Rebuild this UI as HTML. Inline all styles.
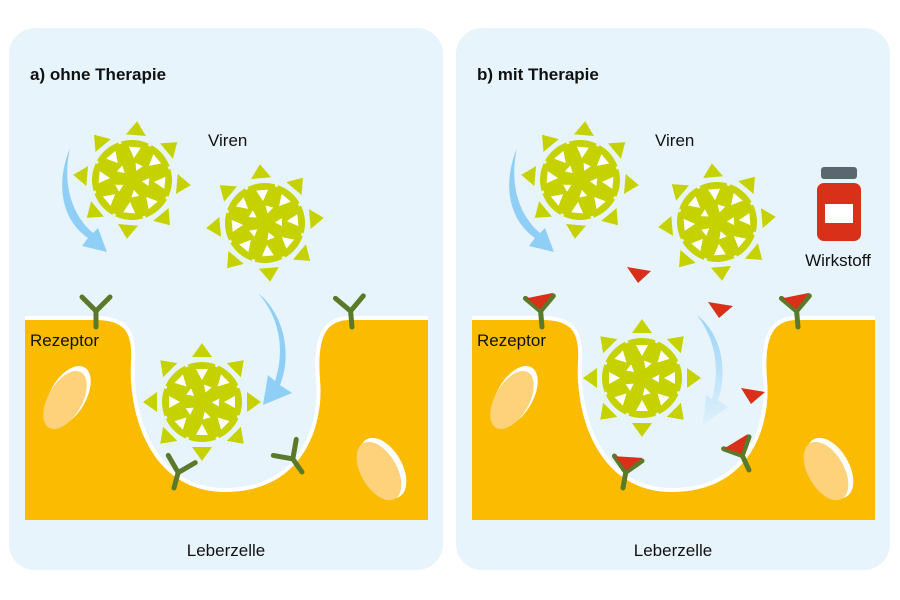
<!DOCTYPE html>
<html><head><meta charset="utf-8"><style>
html,body{margin:0;padding:0;background:#fff;}
svg{display:block;}
text{font-family:"Liberation Sans",sans-serif;fill:#111;}
</style></head><body>
<svg width="900" height="600" viewBox="0 0 900 600" xmlns="http://www.w3.org/2000/svg">
<defs>
<g id="virus">
  <g fill="#c5d200">
    <polygon points="-10,-45 10,-45 0,-59"/>
    <polygon points="-10,-45 10,-45 0,-59" transform="rotate(45)"/>
    <polygon points="-10,-45 10,-45 0,-59" transform="rotate(90)"/>
    <polygon points="-10,-45 10,-45 0,-59" transform="rotate(135)"/>
    <polygon points="-10,-45 10,-45 0,-59" transform="rotate(180)"/>
    <polygon points="-10,-45 10,-45 0,-59" transform="rotate(225)"/>
    <polygon points="-10,-45 10,-45 0,-59" transform="rotate(270)"/>
    <polygon points="-10,-45 10,-45 0,-59" transform="rotate(315)"/>
    <circle r="40"/>
  </g>
  <g stroke="#e8f4fc" stroke-width="3">
    <line x1="0" y1="-38" x2="0" y2="-45" transform="rotate(22)"/>
    <line x1="0" y1="-38" x2="0" y2="-45" transform="rotate(67)"/>
    <line x1="0" y1="-38" x2="0" y2="-45" transform="rotate(112)"/>
    <line x1="0" y1="-38" x2="0" y2="-45" transform="rotate(157)"/>
    <line x1="0" y1="-38" x2="0" y2="-45" transform="rotate(202)"/>
    <line x1="0" y1="-38" x2="0" y2="-45" transform="rotate(247)"/>
    <line x1="0" y1="-38" x2="0" y2="-45" transform="rotate(292)"/>
    <line x1="0" y1="-38" x2="0" y2="-45" transform="rotate(337)"/>
  </g>
  <g fill="#fff">
    <polygon points="-6,-33 6,-33 0,-22" transform="rotate(0)"/>
    <polygon points="-6,-33 6,-33 0,-22" transform="rotate(45)"/>
    <polygon points="-6,-33 6,-33 0,-22" transform="rotate(90)"/>
    <polygon points="-6,-33 6,-33 0,-22" transform="rotate(135)"/>
    <polygon points="-6,-33 6,-33 0,-22" transform="rotate(180)"/>
    <polygon points="-6,-33 6,-33 0,-22" transform="rotate(225)"/>
    <polygon points="-6,-33 6,-33 0,-22" transform="rotate(270)"/>
    <polygon points="-6,-33 6,-33 0,-22" transform="rotate(315)"/>
    <polygon points="-4,-17 4,-17 0,-10" transform="rotate(20)"/>
    <polygon points="-4,-17 4,-17 0,-10" transform="rotate(92)"/>
    <polygon points="-4,-17 4,-17 0,-10" transform="rotate(164)"/>
    <polygon points="-4,-17 4,-17 0,-10" transform="rotate(236)"/>
    <polygon points="-4,-17 4,-17 0,-10" transform="rotate(308)"/>
  </g>
</g>
<g id="rec" fill="none" stroke="#5a7a2a" stroke-width="5" stroke-linecap="round">
  <path d="M0,0 L0,-16 L-14,-30 M0,-16 L14,-30"/>
</g>
<g id="recd">
  <use href="#rec"/>
  <polygon points="-13,-30 14,-33 0,-18" fill="#d9301a"/>
</g>
<linearGradient id="fade" x1="0" y1="0" x2="0" y2="1">
  <stop offset="0" stop-color="#8fcff5" stop-opacity="0.9"/>
  <stop offset="1" stop-color="#8fcff5" stop-opacity="0.1"/>
</linearGradient>
</defs>

<rect x="9" y="28" width="434" height="542" rx="26" fill="#e8f4fc"/>
<rect x="456" y="28" width="434" height="542" rx="26" fill="#e8f4fc"/>

<text x="30" y="80" font-size="17" font-weight="bold">a)  ohne Therapie</text>
<text x="477" y="80" font-size="17" font-weight="bold">b)  mit Therapie</text>

<path d="M25,318 L95,318 C125,318 135,330 133,362 C130,410 150,490 225,490 C305,490 322,420 318,380 C315,340 322,318 350,318 L428,318 L428,520 L25,520 Z" fill="#fbbb00"/>
<path d="M25,318 L95,318 C125,318 135,330 133,362 C130,410 150,490 225,490 C305,490 322,420 318,380 C315,340 322,318 350,318 L428,318" fill="none" stroke="#fff" stroke-width="4"/>
<ellipse cx="68" cy="396" rx="18" ry="33" transform="rotate(30 68 396)" fill="#fff"/>
<ellipse cx="65" cy="400" rx="17" ry="32" transform="rotate(30 65 400)" fill="#fdd27a"/>
<ellipse cx="383" cy="468" rx="19" ry="33" transform="rotate(-30 383 468)" fill="#fff"/>
<ellipse cx="379" cy="471" rx="18" ry="32" transform="rotate(-30 379 471)" fill="#fdd27a"/>

<path d="M472,318 L542,318 C572,318 582,330 580,362 C577,410 597,490 672,490 C752,490 769,420 765,380 C762,340 769,318 797,318 L875,318 L875,520 L472,520 Z" fill="#fbbb00"/>
<path d="M472,318 L542,318 C572,318 582,330 580,362 C577,410 597,490 672,490 C752,490 769,420 765,380 C762,340 769,318 797,318 L875,318" fill="none" stroke="#fff" stroke-width="4"/>
<ellipse cx="515" cy="396" rx="18" ry="33" transform="rotate(30 515 396)" fill="#fff"/>
<ellipse cx="512" cy="400" rx="17" ry="32" transform="rotate(30 512 400)" fill="#fdd27a"/>
<ellipse cx="830" cy="468" rx="19" ry="33" transform="rotate(-30 830 468)" fill="#fff"/>
<ellipse cx="826" cy="471" rx="18" ry="32" transform="rotate(-30 826 471)" fill="#fdd27a"/>

<path d="M70,148 C55,185 62,220 88,238 L82,246 L107,252 L98,228 L93,233 C72,215 62,185 70,148 Z" fill="#8fcff5"/>
<path d="M258,293 C285,315 292,355 280,385 L292,393 L263,405 L268,375 L275,381 C285,350 280,318 258,293 Z" fill="#8fcff5"/>
<path d="M517,148 C502,185 509,220 535,238 L529,246 L554,252 L545,228 L540,233 C519,215 509,185 517,148 Z" fill="#8fcff5"/>
<path d="M697,315 C722,335 728,370 718,400 L728,407 L703,425 L706,395 L712,399 C720,370 716,340 697,315 Z" fill="url(#fade)"/>

<use href="#virus" transform="translate(132,180) rotate(5)"/>
<use href="#virus" transform="translate(265,223) rotate(-5)"/>
<use href="#virus" transform="translate(202,402)"/>
<use href="#virus" transform="translate(580,180) rotate(5)"/>
<use href="#virus" transform="translate(717,222) rotate(-5)"/>
<use href="#virus" transform="translate(642,378)"/>

<use href="#rec" transform="translate(96,327)"/>
<use href="#rec" transform="translate(352,327) rotate(-5)"/>
<use href="#rec" transform="translate(174,488) rotate(15)"/>
<use href="#rec" transform="translate(302,472) rotate(-35)"/>
<use href="#recd" transform="translate(542,327) rotate(-5)"/>
<use href="#recd" transform="translate(798,327) rotate(-5)"/>
<use href="#recd" transform="translate(623,488) rotate(10)"/>
<use href="#recd" transform="translate(749,470) rotate(-25)"/>

<g fill="#d9301a">
  <polygon points="627,267 651,271 638,283"/>
  <polygon points="708,302 733,306 719,318"/>
  <polygon points="741,388 765,392 751,404"/>
</g>

<rect x="821" y="167" width="36" height="12" rx="3" fill="#5a6670"/>
<rect x="817" y="183" width="44" height="58" rx="7" fill="#d9301a"/>
<rect x="825" y="204" width="28" height="19" fill="#fff"/>
<text x="838" y="266" font-size="17" text-anchor="middle">Wirkstoff</text>

<text x="208" y="146" font-size="17">Viren</text>
<text x="655" y="146" font-size="17">Viren</text>
<text x="30" y="346" font-size="17">Rezeptor</text>
<text x="477" y="346" font-size="17">Rezeptor</text>
<text x="226" y="556" font-size="17" text-anchor="middle">Leberzelle</text>
<text x="673" y="556" font-size="17" text-anchor="middle">Leberzelle</text>
</svg>
</body></html>
